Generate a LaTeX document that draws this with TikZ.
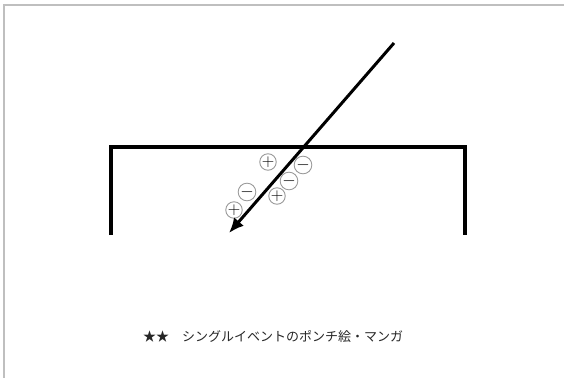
\documentclass[tikz,border=0pt]{standalone}
\usepackage{fontspec}
\newfontfamily\cjk{Noto Sans CJK JP}
\usepackage{tikz}
\usetikzlibrary{arrows.meta}

\begin{document}
\begin{tikzpicture}[x=1pt,y=-1pt]
\tikzstyle{every node}+=[inner sep=0pt]
\tikzstyle{charge}=[draw=black!40, line width=0.9pt, circle, minimum size=16pt, font=\fontsize{19}{19}\selectfont]
\useasboundingbox (0,0) rectangle (564,378);
% frame
\draw [black!25, line width=2pt] (564,5) -- (4,5) -- (4,378);
% box
\coordinate (bl) at (111,235);
\coordinate (tl) at (111,147);
\coordinate (tr) at (465,147);
\coordinate (br) at (465,235);
\draw [black, line width=4pt, line join=miter] (bl) -- (tl) -- (tr) -- (br);
% charges
\node [charge] (p1) at (268,162) {$+$};
\node [charge] (m1) at (303,165) {$-$};
\node [charge] (m2) at (289,181) {$-$};
\node [charge] (m3) at (247,192) {$-$};
\node [charge] (p2) at (277,196) {$+$};
\node [charge] (p3) at (234,210) {$+$};
% track
\coordinate (start) at (394,43);
\coordinate (stop) at (229,233);
\draw [black, line width=3pt, -{Latex[length=15pt,width=13pt]}] (start) -- (stop);
% caption
\node [anchor=west, font=\cjk\fontsize{13}{13}\selectfont, text=black!85] (cap) at (143,337) {★★\hspace{1em}シングルイベントのポンチ絵・マンガ};
\end{tikzpicture}
\end{document}
